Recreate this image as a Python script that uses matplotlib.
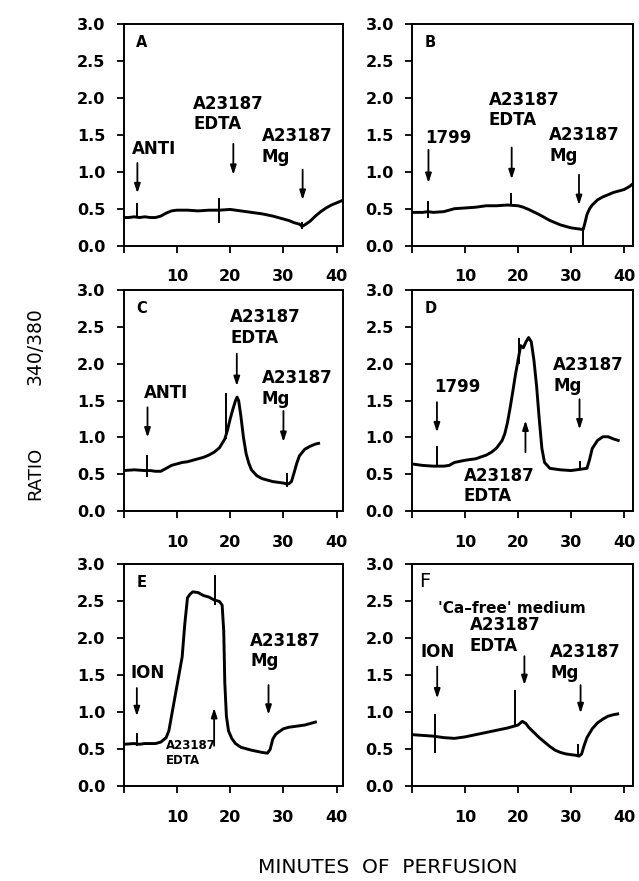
import matplotlib
matplotlib.use("Agg")
import matplotlib.pyplot as plt

plt.rcParams['font.family'] = ['DejaVu Sans']
plt.rcParams['font.weight'] = 'bold'

# ---- traces (minutes, ratio 340/380) ----
a_x = [0, 1, 2, 3, 4, 5, 6, 7, 8, 9, 10, 12, 14, 16, 18, 20, 22, 24, 26, 28, 30, 31, 32, 33, 33.5, 34, 35, 36, 37, 38, 39, 40, 41]
a_y = [0.38, 0.38, 0.39, 0.38, 0.39, 0.38, 0.38, 0.40, 0.44, 0.47, 0.48, 0.48, 0.47, 0.48, 0.48, 0.49, 0.47, 0.45, 0.43, 0.40, 0.36, 0.34, 0.31, 0.29, 0.26, 0.28, 0.33, 0.40, 0.46, 0.51, 0.55, 0.58, 0.61]

b_x = [0, 2, 3, 4, 6, 8, 10, 12, 14, 16, 18, 20, 21, 22, 24, 26, 28, 30, 31, 32, 32.3, 32.6, 33, 33.5, 34, 35, 36, 37, 38, 39, 40, 41, 41.7]
b_y = [0.45, 0.45, 0.46, 0.45, 0.46, 0.50, 0.51, 0.52, 0.54, 0.54, 0.55, 0.54, 0.52, 0.49, 0.42, 0.34, 0.28, 0.24, 0.23, 0.22, 0.22, 0.30, 0.42, 0.50, 0.55, 0.62, 0.66, 0.69, 0.72, 0.74, 0.76, 0.80, 0.84]

c_x = [0, 2, 4, 5, 6, 7, 8, 9, 10, 11, 12, 13, 14, 15, 16, 17, 18, 19, 19.5, 20, 20.5, 21, 21.3, 21.6, 22, 22.5, 23, 23.5, 24, 25, 26, 27, 28, 29, 30, 30.5, 31, 31.5, 32, 32.5, 33, 34, 35, 36, 36.6]
c_y = [0.55, 0.56, 0.55, 0.55, 0.54, 0.54, 0.58, 0.62, 0.64, 0.66, 0.67, 0.69, 0.71, 0.73, 0.76, 0.80, 0.86, 0.98, 1.10, 1.25, 1.38, 1.50, 1.55, 1.50, 1.30, 1.00, 0.78, 0.65, 0.56, 0.48, 0.44, 0.42, 0.40, 0.39, 0.38, 0.37, 0.37, 0.40, 0.52, 0.65, 0.75, 0.84, 0.88, 0.91, 0.92]

d_x = [0, 2, 4, 6, 7, 8, 10, 12, 14, 15, 16, 17, 17.5, 18, 18.5, 19, 19.5, 20, 20.5, 21, 21.5, 22, 22.5, 23, 23.5, 24, 24.5, 25, 26, 28, 30, 31, 32, 33, 33.5, 34, 35, 36, 37, 38, 38.9]
d_y = [0.64, 0.62, 0.61, 0.61, 0.62, 0.66, 0.69, 0.71, 0.76, 0.80, 0.86, 0.96, 1.05, 1.20, 1.40, 1.62, 1.85, 2.05, 2.25, 2.22, 2.30, 2.36, 2.30, 2.05, 1.70, 1.25, 0.85, 0.66, 0.58, 0.56, 0.55, 0.56, 0.57, 0.58, 0.70, 0.85, 0.96, 1.01, 1.01, 0.98, 0.96]

e_x = [0, 2, 3, 4, 6, 7, 8, 8.5, 9, 9.5, 10, 10.5, 11, 11.5, 12, 12.5, 13, 14, 15, 16, 17, 18, 18.5, 18.8, 19, 19.3, 19.7, 20.3, 21, 22, 24, 26, 27, 27.5, 28, 28.5, 29, 30, 31, 32, 33, 34, 35, 36]
e_y = [0.57, 0.58, 0.57, 0.58, 0.58, 0.60, 0.66, 0.75, 0.95, 1.15, 1.35, 1.55, 1.75, 2.20, 2.55, 2.60, 2.63, 2.62, 2.58, 2.56, 2.52, 2.50, 2.45, 2.10, 1.40, 0.95, 0.75, 0.65, 0.58, 0.53, 0.49, 0.46, 0.45, 0.50, 0.64, 0.70, 0.73, 0.78, 0.80, 0.81, 0.82, 0.83, 0.85, 0.87]

f_x = [0, 2, 4, 5, 6, 8, 10, 12, 14, 16, 18, 19, 20, 20.8, 21.5, 22, 23, 24, 25, 26, 27, 28, 29, 30, 31, 31.5, 32, 32.5, 33, 34, 35, 36, 37, 38, 38.8]
f_y = [0.70, 0.69, 0.68, 0.67, 0.66, 0.65, 0.67, 0.70, 0.73, 0.76, 0.79, 0.81, 0.83, 0.88, 0.85, 0.80, 0.73, 0.66, 0.60, 0.54, 0.49, 0.46, 0.44, 0.43, 0.42, 0.41, 0.44, 0.56, 0.66, 0.78, 0.86, 0.91, 0.95, 0.97, 0.98]

# injection artefacts (time, low, high)
a_spk = ([2.6, 18.0, 33.5], [0.38, 0.31, 0.22], [0.58, 0.65, 0.32])
b_spk = ([3.0, 18.6, 32.3], [0.37, 0.55, 0.0], [0.60, 0.71, 0.22])
c_spk = ([4.4, 19.3, 30.6], [0.46, 0.98, 0.33], [0.76, 1.60, 0.52])
d_spk = ([4.7, 20.2, 31.6], [0.61, 2.00, 0.56], [0.89, 2.36, 0.68])
e_spk = ([2.5, 17.2], [0.55, 2.45], [0.72, 2.86])
f_spk = ([4.4, 19.4, 31.4], [0.45, 0.81, 0.42], [0.98, 1.30, 0.58])

yticks = [0.0, 0.5, 1.0, 1.5, 2.0, 2.5, 3.0]
xticks = [0, 10, 20, 30, 40]
xticklabels = ['', '10', '20', '30', '40']

# (text, text x, text y, arrow x, arrow tail y, arrow tip y, fontsize)
a_notes = [("ANTI", 1.6, 1.31, 2.6, 1.12, 0.71, 12),
           ("A23187\nEDTA", 13.1, 1.785, 20.6, 1.38, 0.96, 12),
           ("A23187\nMg", 25.9, 1.34, 33.6, 1.03, 0.62, 12)]
b_notes = [("1799", 2.4, 1.46, 3.1, 1.30, 0.85, 12),
           ("A23187\nEDTA", 14.5, 1.84, 18.8, 1.33, 0.90, 12),
           ("A23187\nMg", 25.9, 1.36, 31.5, 0.96, 0.55, 12)]
c_notes = [("ANTI", 3.75, 1.61, 4.5, 1.41, 1.00, 12),
           ("A23187\nEDTA", 20.0, 2.50, 21.25, 2.14, 1.70, 12),
           ("A23187\nMg", 25.9, 1.67, 30.0, 1.36, 0.94, 12)]
d_notes = [("1799", 4.1, 1.68, 4.7, 1.48, 1.07, 12),
           ("A23187\nEDTA", 9.8, 0.34, 21.4, 0.80, 1.23, 12),
           ("A23187\nMg", 26.6, 1.84, 31.6, 1.52, 1.11, 12)]
e_notes = [("ION", 1.4, 1.54, 2.5, 1.33, 0.95, 12),
           ("A23187\nEDTA", 7.9, 0.45, 17.0, 0.55, 1.06, 8.5),
           ("A23187\nMg", 23.75, 1.83, 27.2, 1.37, 0.97, 12)]
f_notes = [("ION", 1.6, 1.82, 4.75, 1.62, 1.19, 12),
           ("A23187\nEDTA", 10.9, 2.035, 21.2, 1.76, 1.37, 12),
           ("A23187\nMg", 26.1, 1.68, 31.8, 1.37, 0.99, 12)]

panels = [
    ("A", a_x, a_y, a_spk, a_notes, [0.1933, 0.7213, 0.3437, 0.2509], 41.2),
    ("B", b_x, b_y, b_spk, b_notes, [0.6448, 0.7213, 0.3459, 0.2509], 41.7),
    ("C", c_x, c_y, c_spk, c_notes, [0.1933, 0.4200, 0.3437, 0.2503], 41.2),
    ("D", d_x, d_y, d_spk, d_notes, [0.6448, 0.4200, 0.3459, 0.2503], 41.7),
    ("E", e_x, e_y, e_spk, e_notes, [0.1933, 0.1073, 0.3437, 0.2520], 41.2),
    ("F", f_x, f_y, f_spk, f_notes, [0.6448, 0.1073, 0.3459, 0.2520], 41.7),
]

fig = plt.figure(figsize=(6.39, 8.81), dpi=100)

for name, x, y, spk, notes, rect, xmax in panels:
    ax = fig.add_axes(rect)
    ax.plot(x, y, color='black', lw=2.1, solid_joinstyle='round')
    ax.vlines(spk[0], spk[1], spk[2], color='black', lw=1.4)
    for txt, tx, ty, axx, y0, y1, fs in notes:
        ax.annotate('', xy=(axx, y1), xytext=(axx, y0),
                    arrowprops=dict(arrowstyle='-|>,head_width=0.18,head_length=0.55',
                                    color='black', lw=1.3, shrinkA=0, shrinkB=0))
        ax.text(tx, ty, txt, fontsize=fs, ha='left', va='center', linespacing=1.2)
    if name == "F":
        ax.text(1.3, 2.77, "F", fontsize=14, ha='left', va='center', fontweight='normal')
        ax.text(4.9, 2.40, "'Ca\u2013free' medium", fontsize=11, ha='left', va='center')
    else:
        ax.text(2.4, 2.75, name, fontsize=10.5, ha='left', va='center')
    ax.set_xlim(0, xmax)
    ax.set_ylim(0, 3.0)
    ax.set_yticks(yticks)
    ax.set_yticklabels(['%.1f' % v for v in yticks])
    ax.set_xticks(xticks)
    ax.set_xticklabels(xticklabels)
    ax.tick_params(direction='out', length=5, width=1.3, labelsize=11.5)
    ax.tick_params(axis='x', pad=12)
    ax.tick_params(axis='y', pad=8)
    for s in ax.spines.values():
        s.set_linewidth(1.4)

fig.text(0.0548, 0.463, "RATIO", rotation=90, fontsize=13,
         ha='center', va='center', fontweight='normal')
fig.text(0.0548, 0.6073, "340/380", rotation=90, fontsize=13.5,
         ha='center', va='center', fontweight='normal')
fig.text(0.607, 0.015, "MINUTES  OF  PERFUSION", fontsize=14.5,
         ha='center', va='center', fontweight='normal')

fig.savefig("out.png", dpi=100)
